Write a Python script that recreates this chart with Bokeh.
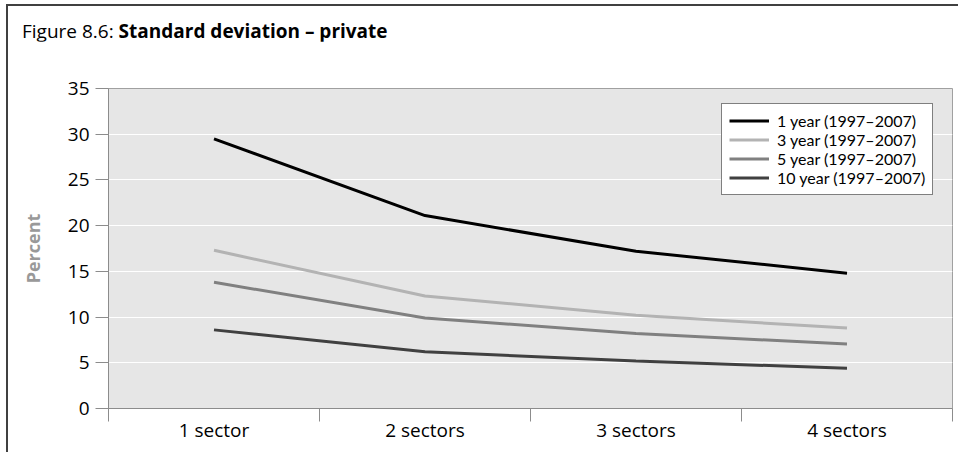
from bokeh.plotting import figure
from bokeh.models import (Range1d, FixedTicker, Legend, LegendItem, Div,
                          ColumnDataSource)
from bokeh.layouts import column
from bokeh.embed import file_html
from bokeh.resources import INLINE

# ---- data ----
categories = ["1 sector", "2 sectors", "3 sectors", "4 sectors"]
series_names = ["1 year (1997\u20132007)", "3 year (1997\u20132007)",
                "5 year (1997\u20132007)", "10 year (1997\u20132007)"]
one_year = [29.5, 21.1, 17.2, 14.8]
three_year = [17.3, 12.3, 10.2, 8.8]
five_year = [13.8, 9.9, 8.2, 7.05]
ten_year = [8.6, 6.2, 5.2, 4.4]
y_ticks = [0, 5, 10, 15, 20, 25, 30, 35]
title_prefix = "Figure 8.6: "
title_main = "Standard deviation \u2013 private"

series_values = [one_year, three_year, five_year, ten_year]
series_colors = ["#000000", "#b3b3b3", "#808080", "#404040"]

FONT = "Open Sans"

p = figure(width=950, height=411, output_backend="svg", toolbar_location=None,
           x_range=Range1d(0, len(categories)), y_range=Range1d(0, 35),
           min_border_left=100, min_border_right=6, min_border_top=47,
           min_border_bottom=44)

p.background_fill_color = "#e6e6e6"
p.border_fill_color = "white"
p.outline_line_color = "#a0a0a0"
p.outline_line_width = 1

# grid
p.xgrid.grid_line_color = None
p.ygrid.grid_line_color = "white"
p.ygrid.grid_line_width = 1.2
p.ygrid.ticker = FixedTicker(ticks=y_ticks)

# y axis
p.yaxis.ticker = FixedTicker(ticks=y_ticks)
p.yaxis.axis_line_color = "#8c8c8c"
p.yaxis.major_tick_line_color = "#8c8c8c"
p.yaxis.major_tick_out = 13
p.yaxis.major_tick_in = 0
p.yaxis.minor_tick_line_color = None
p.yaxis.major_label_text_font = FONT
p.yaxis.major_label_text_font_size = "19px"
p.yaxis.major_label_text_color = "black"
p.yaxis.major_label_standoff = 6
p.yaxis.axis_label = "Percent"
p.yaxis.axis_label_text_font = FONT
p.yaxis.axis_label_text_font_style = "bold"
p.yaxis.axis_label_text_font_size = "18px"
p.yaxis.axis_label_text_color = "#999999"
p.yaxis.axis_label_standoff = 20

# x axis: labels at category centres, tick marks at boundaries
centres = [i + 0.5 for i in range(len(categories))]
bounds = list(range(len(categories) + 1))
p.xaxis.ticker = FixedTicker(ticks=centres, minor_ticks=bounds)
p.xaxis.major_label_overrides = {c: lab for c, lab in zip(centres, categories)}
p.xaxis.axis_line_color = "#8c8c8c"
p.xaxis.major_tick_line_color = None
p.xaxis.minor_tick_line_color = "#8c8c8c"
p.xaxis.minor_tick_out = 13
p.xaxis.minor_tick_in = 0
p.xaxis.major_label_text_font = FONT
p.xaxis.major_label_text_font_size = "19px"
p.xaxis.major_label_text_color = "black"
p.xaxis.major_label_standoff = -5

items = []
for name, vals, col in zip(series_names, series_values, series_colors):
    src = ColumnDataSource(dict(x=centres, y=vals))
    r = p.line("x", "y", source=src, line_color=col, line_width=3)
    items.append(LegendItem(label=name, renderers=[r]))

legend = Legend(items=items, location=(613, 213), orientation="vertical",
                glyph_width=40, glyph_height=19, label_height=19,
                label_standoff=8, spacing=0, padding=7, margin=0,
                label_text_font="Lato", label_text_font_size="16px",
                label_text_color="black",
                border_line_color="black", border_line_width=1,
                background_fill_color="white", background_fill_alpha=1.0)
p.add_layout(legend, "center")

title = Div(text=f"{title_prefix}<b>{title_main}</b>", width=900, height=19,
            margin=(16, 0, 0, 14),
            styles={"font-family": FONT, "font-size": "19px",
                    "line-height": "1", "color": "black",
                    "white-space": "nowrap"})

layout = column(title, p, spacing=0,
                styles={"border-left": "2px solid #404040",
                        "border-top": "2px solid #404040",
                        "margin-left": "6px", "margin-top": "4px"})

open("out.html", "w").write(file_html(layout, INLINE))
